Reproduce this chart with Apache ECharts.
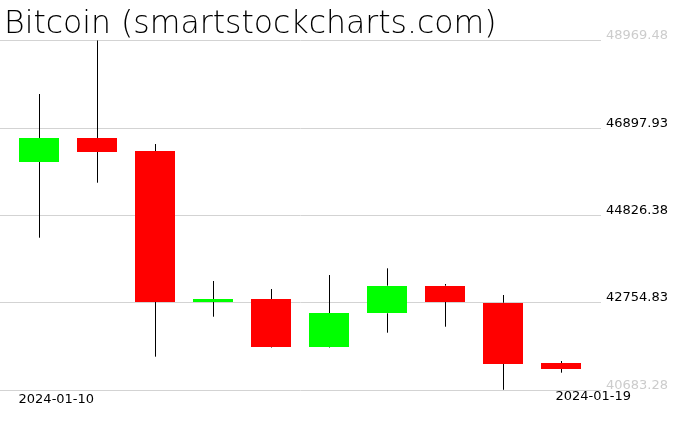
<!DOCTYPE html>
<html><head><meta charset="utf-8">
<script src="https://cdn.jsdelivr.net/npm/echarts@6/dist/echarts.min.js"></script>
<style>html,body{margin:0;padding:0;background:#fff}#c{width:676px;height:431px}</style>
</head><body><div id="c"></div><script>
const titleText = 'Bitcoin (smartstockcharts.com)';
const dates  = ['2024-01-10','2024-01-11','2024-01-12','2024-01-13','2024-01-14','2024-01-15','2024-01-16','2024-01-17','2024-01-18','2024-01-19'];
const opens  = [46094, 46657, 46348, 42766, 42837, 41699, 42498, 43153, 42749, 41319];
const closes = [46657, 46332, 42773, 42837, 41699, 42505, 43153, 42766, 41303, 41184];
const lows   = [44291, 45596, 41469, 42417, 41687, 41687, 42038, 42180, 40683.28, 41089];
const highs  = [47700, 48969.48, 46514, 43264, 43074, 43406, 43565, 43193, 42932, 41366];
const yTicks = [40683.28, 42754.83, 44826.38, 46897.93, 48969.48];
const yTickLabels = ['40683.28', '42754.83', '44826.38', '46897.93', '48969.48'];
const xLabelIdx = [0, 9];

const FONT = 'DejaVu Sans';
const chart = echarts.init(document.getElementById('c'), null, {renderer: 'canvas'});

const candleData = dates.map((d, i) => [i, opens[i], closes[i], lows[i], highs[i]]);

function renderItem(params, api) {
  const i = api.value(0);
  const o = api.value(1), c = api.value(2), l = api.value(3), h = api.value(4);
  const pO = api.coord([i, o]), pC = api.coord([i, c]);
  const pL = api.coord([i, l]), pH = api.coord([i, h]);
  const band = api.size([1, 0])[0];
  const w = Math.round(band * 0.69);
  const px = Math.floor(pO[0]);
  const cx = px + 0.5;
  const top = Math.min(pO[1], pC[1]);
  const bot = Math.max(pO[1], pC[1]);
  const up = c >= o;
  return {
    type: 'group',
    children: [
      {type: 'line', shape: {x1: cx, y1: pH[1], x2: cx, y2: top}, style: {stroke: '#000', lineWidth: 1}},
      {type: 'line', shape: {x1: cx, y1: bot, x2: cx, y2: pL[1]}, style: {stroke: '#000', lineWidth: 1}},
      {type: 'rect', shape: {x: px - w / 2, y: Math.round(top), width: w, height: Math.max(Math.round(bot) - Math.round(top), 2)},
       style: {fill: up ? '#00ff00' : '#ff0000'}}
    ]
  };
}

const GT = 40.5, GB = 431 - 389.8;

chart.setOption({
  animation: false,
  backgroundColor: '#fff',
  title: {
    text: titleText, left: 4, top: 9, padding: 0,
    textStyle: {fontFamily: FONT, fontSize: 31.5, fontWeight: 200, color: '#000'}
  },
  grid: [
    {left: 0, right: 75, top: GT, bottom: GB, containLabel: false, outerBoundsMode: 'none'},
    {left: 10.3, right: 85.3, top: GT, bottom: GB, containLabel: false, outerBoundsMode: 'none'}
  ],
  xAxis: [
    {gridIndex: 0, type: 'category', data: dates, show: false},
    {gridIndex: 1, type: 'category', data: dates, boundaryGap: true,
     axisLine: {show: false}, axisTick: {show: false}, splitLine: {show: false},
     axisLabel: {
       interval: 0, margin: 0, fontFamily: FONT, fontSize: 13, color: '#000',
       formatter: (v, idx) => idx === xLabelIdx[0] ? '{a|' + v + '}' : (idx === xLabelIdx[1] ? '{b|' + v + '}' : ''),
       rich: {
         a: {fontFamily: FONT, fontSize: 13, lineHeight: 13, color: '#000', padding: [6, 0, 0, 34]},
         b: {fontFamily: FONT, fontSize: 13, lineHeight: 13, color: '#000', padding: [0, 0, 0, 63]}
       }
     }}
  ],
  yAxis: [
    {gridIndex: 0, type: 'value', position: 'right', min: yTicks[0], max: yTicks[yTicks.length - 1],
     interval: yTicks[1] - yTicks[0],
     axisLine: {show: false}, axisTick: {show: false},
     splitLine: {show: true, lineStyle: {color: '#d3d3d3', width: 1}},
     axisLabel: {
       margin: 5, verticalAlign: 'bottom', fontFamily: FONT, fontSize: 13, lineHeight: 9,
       formatter: (v) => {
         let k = 0, best = Infinity;
         yTicks.forEach((t, j) => { const d = Math.abs(t - v); if (d < best) { best = d; k = j; } });
         const edge = (k === 0 || k === yTicks.length - 1);
         return '{' + (edge ? 'g' : 'k') + '|' + yTickLabels[k] + '}';
       },
       rich: {
         g: {fontFamily: FONT, fontSize: 13, color: '#cccccc', lineHeight: 9},
         k: {fontFamily: FONT, fontSize: 13, color: '#000000', lineHeight: 9}
       }
     }},
    {gridIndex: 1, type: 'value', min: yTicks[0], max: yTicks[yTicks.length - 1], show: false,
     splitLine: {show: false}}
  ],
  series: [{
    type: 'custom', name: 'Bitcoin', xAxisIndex: 1, yAxisIndex: 1,
    renderItem: renderItem, data: candleData,
    encode: {x: 0, y: [1, 2, 3, 4]}, clip: false
  }]
});
</script></body></html>
